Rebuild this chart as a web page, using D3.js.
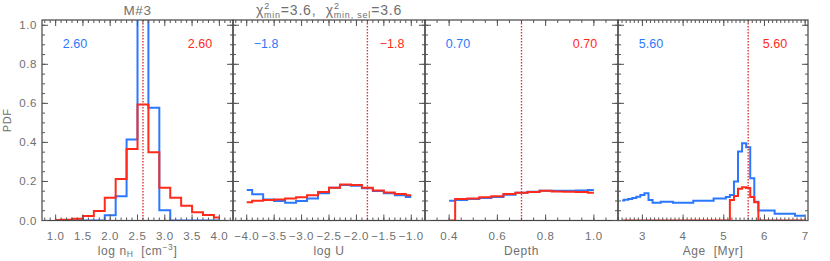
<!DOCTYPE html>
<html>
<head>
<meta charset="utf-8">
<script src="https://cdn.jsdelivr.net/npm/d3@7"></script>
<style>
  body { margin: 0; background: #fff; }
  text { font-family: "Liberation Sans", Arial, sans-serif; fill: #707070; }
</style>
</head>
<body>
<svg id="chart" width="830" height="261"></svg>
<script>
// log nH panel
const nhBins = [1.0, 1.2, 1.4, 1.6, 1.8, 2.0, 2.2, 2.4, 2.6, 2.8, 3.0, 3.2, 3.4, 3.6, 3.8, 4.0];
const nhBlue = [0, 0, 0, 0, 0, 0.027, 0.124, 0.415, 1.05, 0.577, 0.052, 0, 0, 0, 0, 0];
const nhRed = [0.002, 0.004, 0.009, 0.023, 0.049, 0.117, 0.212, 0.366, 0.594, 0.349, 0.168, 0.117, 0.076, 0.042, 0.028, 0.016];

// log U panel
const uBins = [-4.0, -3.8, -3.6, -3.4, -3.2, -3.0, -2.8, -2.6, -2.4, -2.2, -2.0, -1.8, -1.6, -1.4, -1.2, -1.0];
const uBlue = [0.156, 0.134, 0.108, 0.1, 0.091, 0.1, 0.113, 0.139, 0.168, 0.182, 0.178, 0.165, 0.151, 0.139, 0.129, 0.12];
const uRed = [0.093, 0.101, 0.105, 0.108, 0.113, 0.119, 0.129, 0.146, 0.168, 0.185, 0.182, 0.168, 0.154, 0.144, 0.136, 0.129];

// depth panel
const depthBins = [0.40, 0.45, 0.50, 0.55, 0.60, 0.65, 0.70, 0.75, 0.80, 0.85, 0.90, 0.95, 1.00];
const depthBlue = [0.101, 0.105, 0.11, 0.115, 0.12, 0.132, 0.142, 0.147, 0.152, 0.152, 0.152, 0.154, 0.156];
const depthRed = [0, 0.11, 0.113, 0.119, 0.124, 0.136, 0.142, 0.146, 0.152, 0.149, 0.147, 0.146, 0.142];

// age panel
const ageBins = [2.5, 2.6, 2.7, 2.8, 2.9, 3.0, 3.1, 3.2, 3.3, 3.4, 3.5, 3.6, 3.7, 3.8, 3.9, 4.0,
  4.1, 4.2, 4.3, 4.4, 4.5, 4.6, 4.7, 4.8, 4.9, 5.0, 5.1, 5.2, 5.3, 5.4, 5.5, 5.6, 5.7, 5.8,
  5.9, 6.0, 6.1, 6.2, 6.3, 6.4, 6.5, 6.6, 6.7, 6.8, 6.9, 7.0];
const ageBlue = [0.103, 0.106, 0.11, 0.115, 0.122, 0.13, 0.139, 0.105, 0.091, 0.091, 0.096, 0.096,
  0.096, 0.091, 0.091, 0.091, 0.091, 0.091, 0.101, 0.101, 0.101, 0.101, 0.101, 0.113, 0.113, 0.113,
  0.12, 0.13, 0.2, 0.354, 0.396, 0.375, 0.216, 0.096, 0.051, 0.051, 0.051, 0.051, 0.035, 0.035,
  0.035, 0.035, 0.035, 0.024, 0.024, 0.024];
const ageRed = [0, 0, 0, 0, 0, 0, 0, 0, 0, 0, 0, 0, 0, 0, 0, 0, 0, 0, 0, 0, 0, 0, 0, 0, 0, 0,
  0, 0.105, 0.125, 0.162, 0.17, 0.166, 0.12, 0.093, 0, 0, 0, 0, 0, 0, 0, 0, 0, 0, 0, 0];

const bestValues = [2.6, -1.8, 0.7, 5.6];
const bestLabels = ["2.60", "\u22121.8", "0.70", "5.60"];
const yTicks = [0, 0.2, 0.4, 0.6, 0.8, 1.0];

const svg = d3.select("#chart");
const plotTop = 20, plotBottom = 220.5;
const blue = "#2b78ff", red = "#ff2a1a";

const y = d3.scaleLinear().domain([0, 1.027]).range([plotBottom, plotTop]);

const panels = [
  { x0: 42, x1: 233, domain: [0.75, 4.25], major: [1.0, 1.5, 2.0, 2.5, 3.0, 3.5, 4.0], minor: 0.1,
    fmt: d3.format(".1f"), bins: nhBins, blue: nhBlue, red: nhRed, xlabel: "nh" },
  { x0: 233, x1: 425, domain: [-4.25, -0.75], major: [-4.0, -3.5, -3.0, -2.5, -2.0, -1.5, -1.0], minor: 0.1,
    fmt: d => d3.format(".1f")(d).replace("-", "\u2212"), bins: uBins, blue: uBlue, red: uRed, xlabel: "log U" },
  { x0: 425, x1: 618, domain: [0.3, 1.1], major: [0.4, 0.6, 0.8, 1.0], minor: 0.05,
    fmt: d3.format(".1f"), bins: depthBins, blue: depthBlue, red: depthRed, xlabel: "Depth" },
  { x0: 618, x1: 808, domain: [2.4, 7.07], major: [3, 4, 5, 6, 7], minor: 0.1,
    fmt: d3.format("d"), bins: ageBins, blue: ageBlue, red: ageRed, xlabel: "Age  [Myr]" }
];

panels.forEach((p, i) => {
  const x = d3.scaleLinear().domain(p.domain).range([p.x0, p.x1]);
  const g = svg.append("g");

  g.append("clipPath").attr("id", "clip" + i)
    .append("rect").attr("x", p.x0).attr("y", plotTop)
    .attr("width", p.x1 - p.x0).attr("height", plotBottom - plotTop);

  const line = d3.line().curve(d3.curveStep)
    .x(d => x(d[0])).y(d => y(d[1]));

  const plot = g.append("g").attr("clip-path", `url(#clip${i})`);
  plot.append("path")
    .datum(p.bins.map((b, k) => [b, p.blue[k]]))
    .attr("fill", "none").attr("stroke", blue).attr("stroke-width", 2)
    .attr("d", line);
  plot.append("path")
    .datum(p.bins.map((b, k) => [b, p.red[k]]))
    .attr("fill", "none").attr("stroke", red).attr("stroke-width", 2)
    .attr("d", line);

  g.append("line")
    .attr("x1", x(bestValues[i])).attr("x2", x(bestValues[i]))
    .attr("y1", plotTop).attr("y2", plotBottom)
    .attr("stroke", "#d83838").attr("stroke-width", 1.4)
    .attr("stroke-dasharray", "1.4,1.6");

  // frame
  g.append("rect")
    .attr("x", p.x0).attr("y", plotTop)
    .attr("width", p.x1 - p.x0).attr("height", plotBottom - plotTop)
    .attr("fill", "none").attr("stroke", "#444").attr("stroke-width", 1.2);

  // x ticks, bottom and top
  const minorX = d3.range(Math.ceil(p.domain[0] / p.minor), Math.floor(p.domain[1] / p.minor) + 1)
    .map(k => k * p.minor);
  const tickX = (vals, len) => {
    vals.forEach(v => {
      g.append("line").attr("x1", x(v)).attr("x2", x(v))
        .attr("y1", plotBottom).attr("y2", plotBottom - len)
        .attr("stroke", "#555").attr("stroke-width", 1);
      g.append("line").attr("x1", x(v)).attr("x2", x(v))
        .attr("y1", plotTop).attr("y2", plotTop + len)
        .attr("stroke", "#555").attr("stroke-width", 1);
    });
  };
  tickX(minorX, 3);
  tickX(p.major, 6);

  // y ticks, left and right
  const minorY = d3.range(0, 21).map(k => k * 0.05);
  const tickY = (vals, len) => {
    vals.forEach(v => {
      g.append("line").attr("x1", p.x0).attr("x2", p.x0 + len)
        .attr("y1", y(v)).attr("y2", y(v))
        .attr("stroke", "#555").attr("stroke-width", 1);
      g.append("line").attr("x1", p.x1).attr("x2", p.x1 - len)
        .attr("y1", y(v)).attr("y2", y(v))
        .attr("stroke", "#555").attr("stroke-width", 1);
    });
  };
  tickY(minorY, 3);
  tickY(yTicks, 6);

  g.selectAll(".xl").data(p.major).join("text")
    .attr("x", d => x(d)).attr("y", 239.5)
    .attr("text-anchor", "middle").attr("font-size", 11.5)
    .attr("letter-spacing", 0.6)
    .text(p.fmt);

  const cx = (p.x0 + p.x1) / 2;
  if (p.xlabel === "nh") {
    const t = g.append("text").attr("x", cx).attr("y", 254.5)
      .attr("text-anchor", "middle").attr("font-size", 12)
      .attr("letter-spacing", 0.6).attr("xml:space", "preserve");
    t.append("tspan").text("log n");
    t.append("tspan").attr("font-size", 8.5).attr("dy", 2).text("H");
    t.append("tspan").attr("dy", -2).text("  [cm");
    t.append("tspan").attr("font-size", 8.5).attr("dy", -5).text("\u22123");
    t.append("tspan").attr("dy", 5).text("]");
  } else {
    g.append("text").attr("x", cx).attr("y", 254.5)
      .attr("text-anchor", "middle").attr("font-size", 12)
      .attr("letter-spacing", 0.6)
      .attr("xml:space", "preserve").text(p.xlabel);
  }

  g.append("text").attr("x", p.x0 + 33).attr("y", 48)
    .attr("text-anchor", "middle").attr("font-size", 12.5)
    .style("fill", blue).text(bestLabels[i]);
  g.append("text").attr("x", p.x1 - 33).attr("y", 48)
    .attr("text-anchor", "middle").attr("font-size", 12.5)
    .style("fill", red).text(bestLabels[i]);
});

// y axis labels on first panel
svg.selectAll(".yl").data(yTicks).join("text")
  .attr("x", 37).attr("y", d => y(d) + 4)
  .attr("text-anchor", "end").attr("font-size", 11.5)
  .attr("letter-spacing", 0.6)
  .text(d3.format(".1f"));

svg.append("text")
  .attr("transform", `translate(11,${(plotTop + plotBottom) / 2}) rotate(-90)`)
  .attr("text-anchor", "middle").attr("font-size", 11)
  .attr("letter-spacing", 0.6)
  .text("PDF");

// titles
svg.append("text").attr("x", (42 + 233) / 2).attr("y", 15)
  .attr("text-anchor", "middle").attr("font-size", 13.5)
  .attr("letter-spacing", 0.6).text("M#3");

const chi = svg.append("text").attr("x", (233 + 425) / 2).attr("y", 15)
  .attr("text-anchor", "middle").attr("font-size", 14)
  .attr("letter-spacing", 0.8).attr("xml:space", "preserve");
chi.append("tspan").text("\u03c7");
chi.append("tspan").attr("font-size", 9).attr("dy", -6).text("2");
chi.append("tspan").attr("font-size", 9).attr("dx", -6).attr("dy", 9).text("min");
chi.append("tspan").attr("dy", -3).text("=3.6,  \u03c7");
chi.append("tspan").attr("font-size", 9).attr("dy", -6).text("2");
chi.append("tspan").attr("font-size", 9).attr("dx", -6).attr("dy", 9).text("min, sel");
chi.append("tspan").attr("dy", -3).text("=3.6");
</script>
</body>
</html>
